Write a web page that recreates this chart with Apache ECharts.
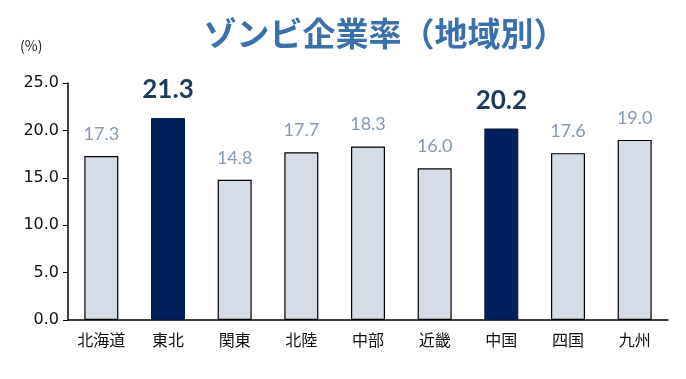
<!DOCTYPE html>
<html><head><meta charset="utf-8">
<script src="https://cdn.jsdelivr.net/npm/echarts@6/dist/echarts.min.js"></script>
<style>html,body{margin:0;padding:0;background:#fff}#c{width:686px;height:379px}</style>
</head><body><div id="c"></div>
<script>
const categories = ['北海道','東北','関東','北陸','中部','近畿','中国','四国','九州'];
const values = [17.3, 21.3, 14.8, 17.7, 18.3, 16.0, 20.2, 17.6, 19.0];
const highlighted = ['東北','中国'];
const titleText = 'ゾンビ企業率（地域別）';
const unitText = '(%)';

const FONT = '"Noto Sans CJK JP", "Noto Sans", sans-serif';
const chart = echarts.init(document.getElementById('c'), null, {renderer: 'canvas'});
const data = values.map((v, i) => {
  const hi = highlighted.includes(categories[i]);
  return {
    value: v,
    itemStyle: hi ? {color: '#00215c', borderColor: '#0a1a3a', borderWidth: 1}
                  : {color: '#d6dce5', borderColor: '#000', borderWidth: 1.2},
    label: hi ? {fontSize: 26, fontWeight: 'bold', color: '#1f3a5c', distance: 15}
              : {fontSize: 18, color: '#8899ad', distance: 13}
  };
});
chart.setOption({
  animation: false,
  title: [{
    text: titleText, left: 380, top: 12, textAlign: 'center',
    textStyle: {fontFamily: FONT, fontSize: 33, fontWeight: 'bold', color: '#3b71aa'}
  }, {
    text: unitText, left: 15, top: 34,
    textStyle: {fontFamily: FONT, fontSize: 14, fontWeight: 'normal', color: '#222'}
  }],
  grid: {left: 68, right: 18, top: 83, bottom: 59, containLabel: false},
  xAxis: {
    type: 'category', data: categories,
    axisLine: {lineStyle: {color: '#000', width: 1.5}},
    axisTick: {show: false},
    axisLabel: {fontFamily: FONT, fontSize: 16, color: '#111', margin: 12}
  },
  yAxis: {
    type: 'value', min: 0, max: 25, interval: 5,
    axisLine: {show: true, lineStyle: {color: '#000', width: 1.5}},
    axisTick: {show: true, length: 5, lineStyle: {color: '#000'}},
    splitLine: {show: false},
    axisLabel: {fontFamily: '"DejaVu Sans", sans-serif', fontSize: 16, color: '#111', margin: 9,
      formatter: v => v.toFixed(1)}
  },
  series: [{
    type: 'bar', data: data, barWidth: 34,
    label: {show: true, position: 'top', fontFamily: 'Lato, "Noto Sans", sans-serif',
      formatter: p => p.value.toFixed(1)}
  }]
});
</script></body></html>
